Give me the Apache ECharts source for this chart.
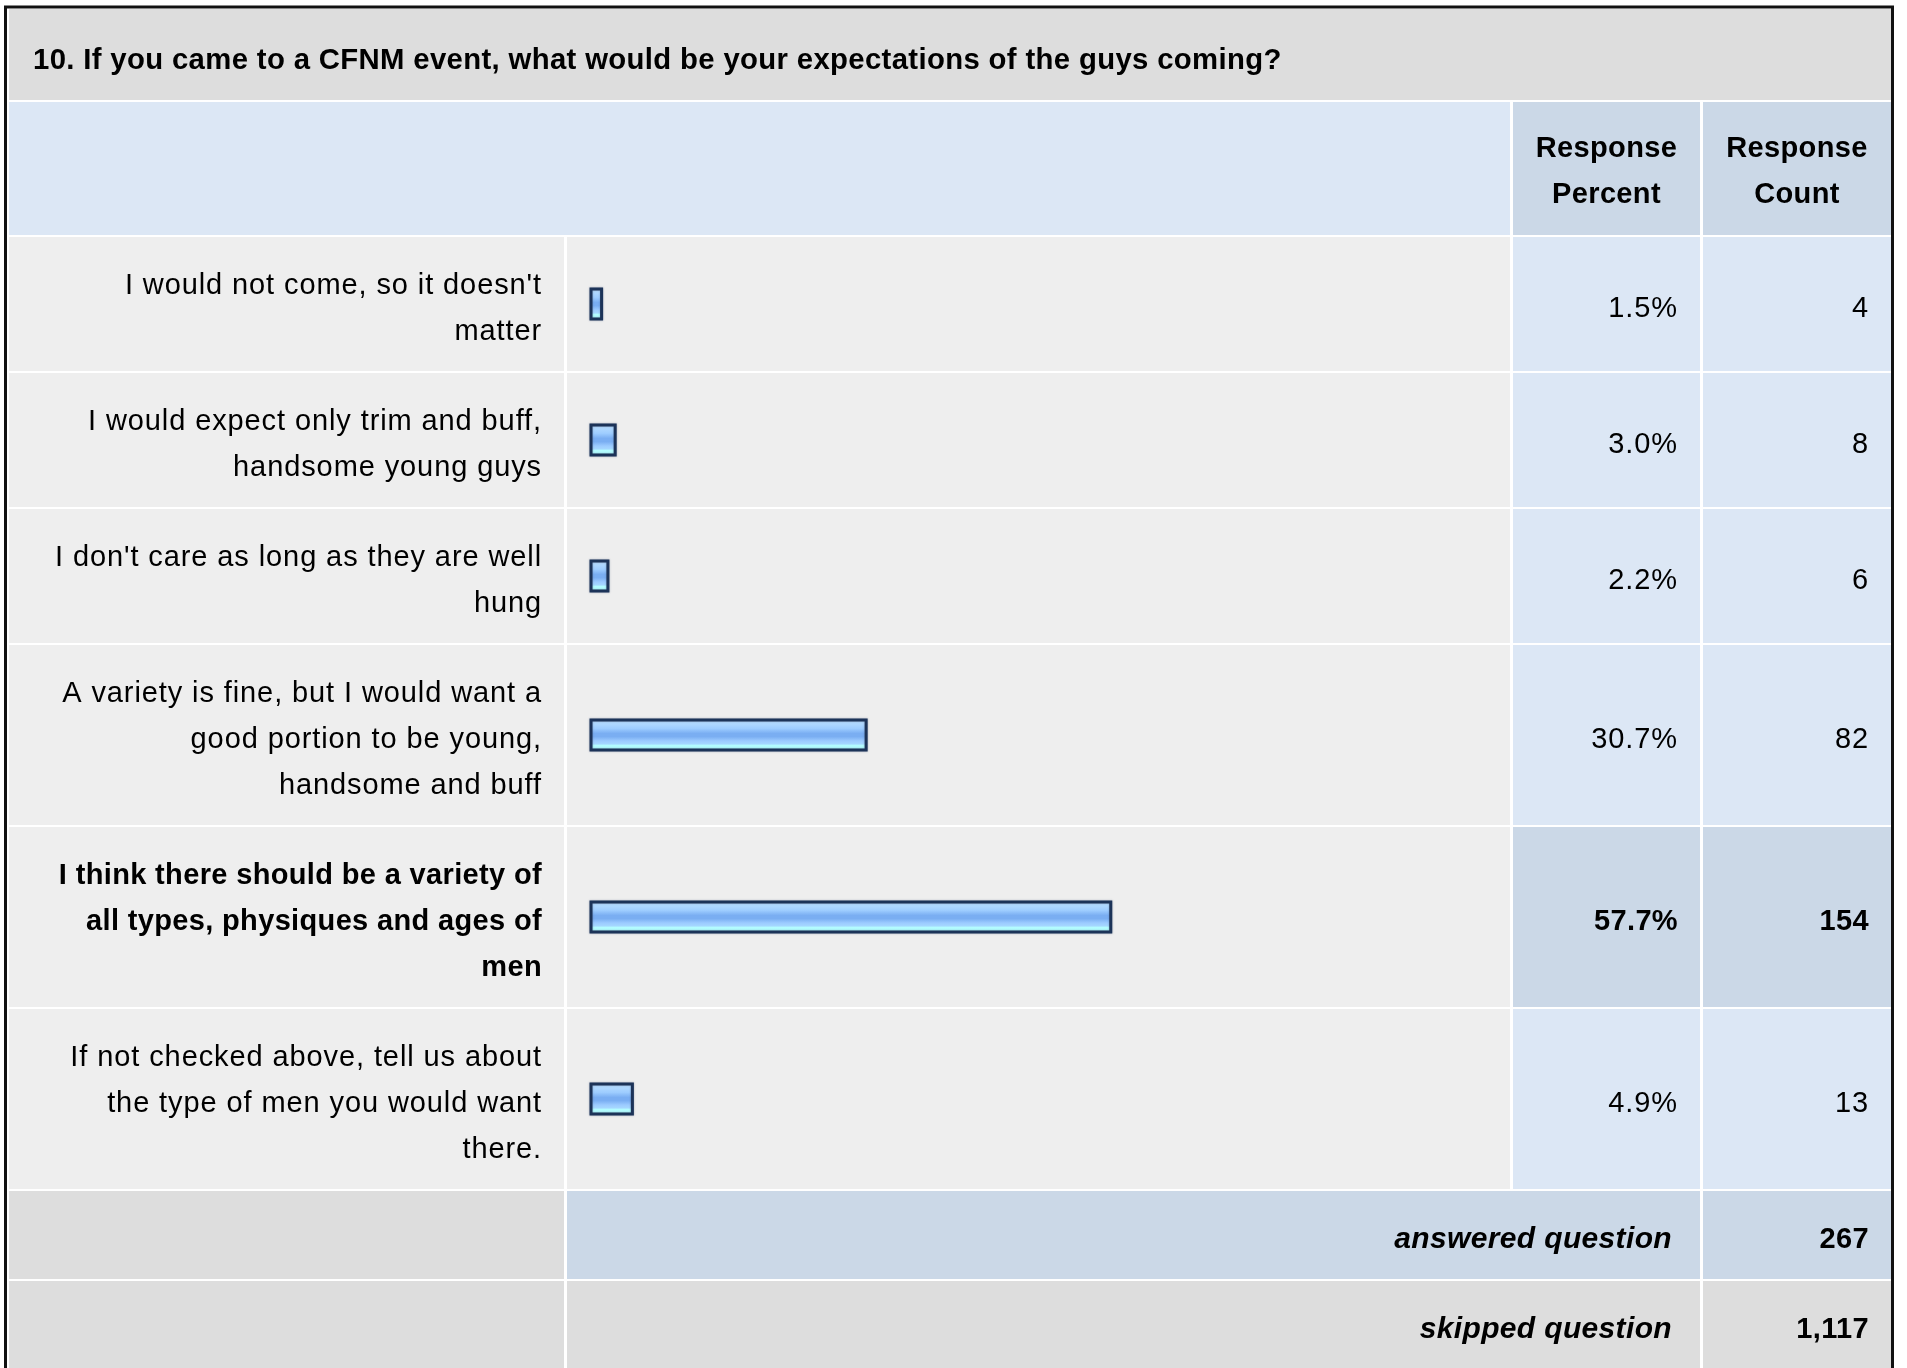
<!DOCTYPE html>
<html><head><meta charset="utf-8">
<script src="https://cdn.jsdelivr.net/npm/echarts@6/dist/echarts.min.js"></script>
<style>html,body{margin:0;padding:0;background:#fff}#c{width:1907px;height:1368px}</style>
</head><body><div id="c"></div>
<script>
// ---------- DATA ----------
const questionTitle = "10. If you came to a CFNM event, what would be your expectations of the guys coming?";
const categories = [
  "I would not come, so it doesn't\nmatter",
  "I would expect only trim and buff,\nhandsome young guys",
  "I don't care as long as they are well\nhung",
  "A variety is fine, but I would want a\ngood portion to be young,\nhandsome and buff",
  "I think there should be a variety of\nall types, physiques and ages of\nmen",
  "If not checked above, tell us about\nthe type of men you would want\nthere."
];
const responsePercent = [1.5, 3.0, 2.2, 30.7, 57.7, 4.9];
const responseCount = [4, 8, 6, 82, 154, 13];
const columnHeaders = ["Response\nPercent", "Response\nCount"];
const summaryLabels = ["answered question", "skipped question"];
const summaryValues = ["267", "1,117"];

// ---------- slightly wider text tracking (as in the reference rendering) ----------
(function () {
  const P = CanvasRenderingContext2D.prototype;
  if (!('letterSpacing' in P)) return;
  const sp = f => /bold|[6-9]00/.test(f) ? '0.35px' : '0.9px';
  const of = P.fillText, om = P.measureText;
  P.fillText = function (t, x, y, mw) {
    const ls = this.letterSpacing; this.letterSpacing = sp(this.font);
    const r = mw === undefined ? of.call(this, t, x, y) : of.call(this, t, x, y, mw);
    this.letterSpacing = ls; return r;
  };
  P.measureText = function (t) {
    const ls = this.letterSpacing; this.letterSpacing = sp(this.font);
    const r = om.call(this, t); this.letterSpacing = ls; return r;
  };
})();

// ---------- LAYOUT / STYLE ----------
const FONT = "'Liberation Sans', Arial, Helvetica, sans-serif";
const LINE = 46;
const X = {labelL: 9, labelR: 564, barL: 567, barR: 1510, pctL: 1513, pctR: 1700, cntL: 1703, cntR: 1891};
const COL = {gray: '#DDDDDD', light: '#EEEEEE', blue: '#DCE7F5', blue2: '#CBD8E7'};
const maxIdx = responsePercent.indexOf(Math.max(...responsePercent));
const N = categories.length;

const graphic = [];
function rect(x, y, w, h, fill) {
  graphic.push({type: 'rect', z: 0, silent: true, shape: {x, y, width: w, height: h}, style: {fill}});
}
function text(x, y, t, o) {
  const st = Object.assign({
    text: t, fill: '#000', fontFamily: FONT, fontSize: 29, fontWeight: 'normal', fontStyle: 'normal',
    align: 'right', textAlign: 'right', verticalAlign: 'middle', textVerticalAlign: 'middle', lineHeight: LINE
  }, o || {});
  if (o && o.align) st.textAlign = o.align;
  graphic.push({type: 'text', z: 20, silent: true, x, y, style: st});
}

// outer frame
graphic.push({type: 'rect', z: 30, silent: true, shape: {x: 5.5, y: 7, width: 1887, height: 1420},
  style: {fill: 'none', stroke: '#111', lineWidth: 3}});

// title row
rect(X.labelL, 9, X.cntR - X.labelL, 91, COL.gray);
text(33, 60.5, questionTitle, {align: 'left', fontWeight: 'bold', fontSize: 29.3});

// header row
const headTop = 102, headH = 133;
rect(X.labelL, headTop, X.barR - X.labelL, headH, COL.blue);
rect(X.pctL, headTop, X.pctR - X.pctL, headH, COL.blue2);
rect(X.cntL, headTop, X.cntR - X.cntL, headH, COL.blue2);
text((X.pctL + X.pctR) / 2, headTop + headH / 2 + 3.5, columnHeaders[0], {align: 'center', fontWeight: 'bold'});
text((X.cntL + X.cntR) / 2, headTop + headH / 2 + 3.5, columnHeaders[1], {align: 'center', fontWeight: 'bold'});

// data rows: grid 0..N-1 hold the bars, grid N..2N-1 hold the category labels
const grids = [], xAxes = [], yAxes = [], series = [];
const labelGrids = [], labelX = [], labelY = [];
let rowTop = headTop + headH + 2;
const barGrad = {
  type: 'linear', x: 0, y: 0, x2: 0, y2: 1,
  colorStops: [
    {offset: 0, color: '#D2EBFF'},
    {offset: 0.12, color: '#B4DBFF'},
    {offset: 0.3, color: '#9ECDFF'},
    {offset: 0.45, color: '#7AAEF2'},
    {offset: 0.55, color: '#7AAEF2'},
    {offset: 0.68, color: '#9CCBFF'},
    {offset: 0.78, color: '#A6D8FF'},
    {offset: 0.8, color: '#B3FCFF'},
    {offset: 1, color: '#B6FFFF'}
  ]
};
categories.forEach((cat, i) => {
  const lines = cat.split('\n').length;
  const h = lines * LINE + 42;
  const hl = i === maxIdx;
  rect(X.labelL, rowTop, X.labelR - X.labelL, h, COL.light);
  rect(X.barL, rowTop, X.barR - X.barL, h, COL.light);
  rect(X.pctL, rowTop, X.pctR - X.pctL, h, hl ? COL.blue2 : COL.blue);
  rect(X.cntL, rowTop, X.cntR - X.cntL, h, hl ? COL.blue2 : COL.blue);
  const cy = rowTop + h / 2 + 4.5;
  const w = hl ? 'bold' : 'normal';
  text(1678, cy, responsePercent[i].toFixed(1) + '%', {fontWeight: w});
  text(1869, cy, String(responseCount[i]), {fontWeight: w});

  grids.push({left: 589.5, top: rowTop, width: 906, height: h, containLabel: false, outerBoundsMode: 'none'});
  xAxes.push({gridIndex: i, type: 'value', min: 0, max: 100, show: false});
  yAxes.push({
    gridIndex: i, type: 'category', data: [cat],
    axisLine: {show: false}, axisTick: {show: false}, splitLine: {show: false}, axisLabel: {show: false}
  });
  series.push({
    type: 'bar', xAxisIndex: i, yAxisIndex: i, data: [responsePercent[i]], barWidth: 33,
    silent: true, z: 10,
    itemStyle: {color: barGrad, borderColor: '#1C3358', borderWidth: 3, shadowColor: 'rgba(60,80,110,0.45)', shadowBlur: 2}
  });

  labelGrids.push({left: 589.5, top: rowTop + 4.5, width: 906, height: h, containLabel: false, outerBoundsMode: 'none'});
  labelX.push({gridIndex: N + i, type: 'value', min: 0, max: 100, show: false});
  labelY.push({
    gridIndex: N + i, type: 'category',
    data: [{value: cat, textStyle: hl ? {fontWeight: 'bold'} : {}}],
    axisLine: {show: false}, axisTick: {show: false}, splitLine: {show: false},
    axisLabel: {margin: 47.5, fontSize: 29, fontFamily: FONT, color: '#000', lineHeight: LINE, align: 'right'}
  });
  rowTop += h + 2;
});

// summary rows
const sumH = [88, 120];
summaryLabels.forEach((lab, k) => {
  const h = sumH[k];
  const midFill = k === 0 ? COL.blue2 : COL.gray;
  rect(X.labelL, rowTop, X.labelR - X.labelL, h, COL.gray);
  rect(X.barL, rowTop, X.pctR - X.barL, h, midFill);
  rect(X.cntL, rowTop, X.cntR - X.cntL, h, midFill);
  const cy = rowTop + 44 + 4.5;
  text(1672, cy, lab, {fontWeight: 'bold', fontStyle: 'italic', fontSize: 30});
  text(1869, cy, summaryValues[k], {fontWeight: 'bold'});
  rowTop += h + 2;
});

const chart = echarts.init(document.getElementById('c'), null, {renderer: 'canvas'});
chart.setOption({
  animation: false,
  backgroundColor: '#FFFFFF',
  grid: grids.concat(labelGrids),
  xAxis: xAxes.concat(labelX),
  yAxis: yAxes.concat(labelY),
  series: series,
  graphic: {elements: graphic}
});
</script></body></html>
